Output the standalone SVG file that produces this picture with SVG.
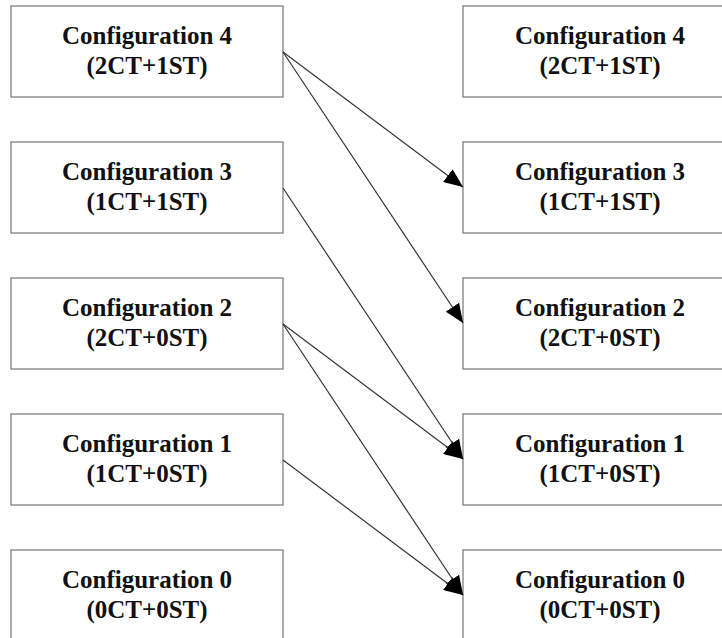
<svg xmlns="http://www.w3.org/2000/svg" width="722" height="638" viewBox="0 0 722 638">
<style>
.box{fill:#fff;stroke:#808080;stroke-width:1.3}
.t{font-family:"Liberation Serif","Times New Roman",serif;font-weight:bold;font-size:25px;fill:#111;text-anchor:middle}
.c{stroke:#333;stroke-width:1.2;fill:none;marker-end:url(#ah)}
</style>
<defs>
<marker id="ah" markerUnits="userSpaceOnUse" markerWidth="21" markerHeight="16" refX="19" refY="8" orient="auto">
<path d="M0,0 L19,8 L0,16 z" fill="#000"/>
</marker>
</defs>
<rect width="722" height="638" fill="#fff"/>
<g id="L4"><rect class="box" x="11" y="6" width="272" height="91"/><text class="t" x="147" y="44">Configuration 4</text><text class="t" x="147" y="74">(2CT+1ST)</text></g>
<g id="L3"><rect class="box" x="11" y="142" width="272" height="91"/><text class="t" x="147" y="180">Configuration 3</text><text class="t" x="147" y="210">(1CT+1ST)</text></g>
<g id="L2"><rect class="box" x="11" y="278" width="272" height="91"/><text class="t" x="147" y="316">Configuration 2</text><text class="t" x="147" y="346">(2CT+0ST)</text></g>
<g id="L1"><rect class="box" x="11" y="414" width="272" height="91"/><text class="t" x="147" y="452">Configuration 1</text><text class="t" x="147" y="482">(1CT+0ST)</text></g>
<g id="L0"><rect class="box" x="11" y="550" width="272" height="91"/><text class="t" x="147" y="588">Configuration 0</text><text class="t" x="147" y="618">(0CT+0ST)</text></g>
<g id="R4"><rect class="box" x="463" y="6" width="274" height="91"/><text class="t" x="600" y="44">Configuration 4</text><text class="t" x="600" y="74">(2CT+1ST)</text></g>
<g id="R3"><rect class="box" x="463" y="142" width="274" height="91"/><text class="t" x="600" y="180">Configuration 3</text><text class="t" x="600" y="210">(1CT+1ST)</text></g>
<g id="R2"><rect class="box" x="463" y="278" width="274" height="91"/><text class="t" x="600" y="316">Configuration 2</text><text class="t" x="600" y="346">(2CT+0ST)</text></g>
<g id="R1"><rect class="box" x="463" y="414" width="274" height="91"/><text class="t" x="600" y="452">Configuration 1</text><text class="t" x="600" y="482">(1CT+0ST)</text></g>
<g id="R0"><rect class="box" x="463" y="550" width="274" height="91"/><text class="t" x="600" y="588">Configuration 0</text><text class="t" x="600" y="618">(0CT+0ST)</text></g>
<g id="connectors">
<line class="c" x1="283" y1="52" x2="463" y2="187"/>
<line class="c" x1="283" y1="52" x2="463" y2="323"/>
<line class="c" x1="283" y1="188" x2="463" y2="459"/>
<line class="c" x1="283" y1="324" x2="463" y2="459"/>
<line class="c" x1="283" y1="324" x2="463" y2="595"/>
<line class="c" x1="283" y1="460" x2="463" y2="595"/>
</g>
</svg>
